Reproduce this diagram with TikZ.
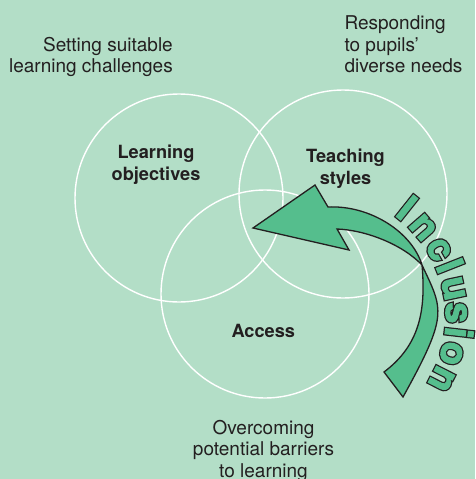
\documentclass[tikz,border=0pt]{standalone}
\usepackage{fontspec}
\setmainfont{TeX Gyre Heros}
\usetikzlibrary{calc}
\definecolor{bggreen}{HTML}{B3DEC7}
\definecolor{arrowgreen}{HTML}{55BE8D}
\definecolor{ink}{HTML}{231F20}
% glyph widened in ink, then widened less in the text colour on top
\newcommand{\outlined}[1]{\rlap{\special{pdf:literal direct q 2 Tr 3.4 w 0.137 0.122 0.125 rg 0.137 0.122 0.125 RG}#1\special{pdf:literal direct Q}}\special{pdf:literal direct q 2 Tr 0.9 w}#1\special{pdf:literal direct Q}}

\begin{document}
\begin{tikzpicture}[x=1pt, y=-1pt]
  \tikzstyle{ring}=[circle, draw=white, line width=1.4pt, minimum size=208pt, inner sep=0pt]
  \tikzstyle{note}=[inner sep=0pt, text=ink, font=\fontsize{19}{21.7}\selectfont]
  \tikzstyle{topic}=[note, font=\fontsize{18.2}{21.7}\selectfont\bfseries, align=center, anchor=base]
  \tikzstyle{letter}=[inner sep=0pt, anchor=base, text=arrowgreen, font=\fontsize{38}{38}\selectfont\bfseries]
  \fill [bggreen] (0,0) rectangle (475,479);
  \useasboundingbox (0,0) rectangle (475,479);
  % circles
  \node [ring] (obj) at (179,198) {};
  \node [ring] (sty) at (343,194) {};
  \node [ring] (acc) at (265,294) {};
  % outer notes
  \node [note, align=right, anchor=base east] (setting) at (173,72.7) {Setting suitable\\learning challenges};
  \node [note, align=left, anchor=base west] (respond) at (344.3,72.7) {Responding\\to pupils’\\diverse needs};
  \node [note, align=center, anchor=base] (overcome) at (263.5,477.4) {Overcoming\\potential barriers\\to learning};
  % arrow
  \draw [fill=arrowgreen, draw=ink, line width=1.3pt, line join=miter]
    (253,228) -- (315,185) -- (328,207)
    .. controls (370,205) and (412,232) .. (422,265)
    .. controls (443,310) and (449,314) .. (403,397)
    -- (384,372)
    .. controls (420,345) and (426,310) .. (422,265)
    .. controls (402,244) and (365,230) .. (337,229)
    -- (349,250) -- cycle;
  % circle labels
  \node [topic] (objlbl) at (156,180) {Learning\\objectives};
  \node [topic] (stylbl) at (345.5,184.3) {Teaching\\styles};
  \node [topic] (acclbl) at (263.3,337) {Access};
  % inclusion along the arc
  \coordinate (bend) at (320,317);
  \foreach \ang/\ch [count=\i] in {51.5/I, 41/n, 29.5/c, 21.5/l, 12/u, 1.8/s, -6.5/i, -15.5/o, -27/n}
    \node [letter, rotate=\ang-90] (incl\i) at ($(bend)+(\ang:126pt)$) {\outlined{\ch}};
\end{tikzpicture}
\end{document}
